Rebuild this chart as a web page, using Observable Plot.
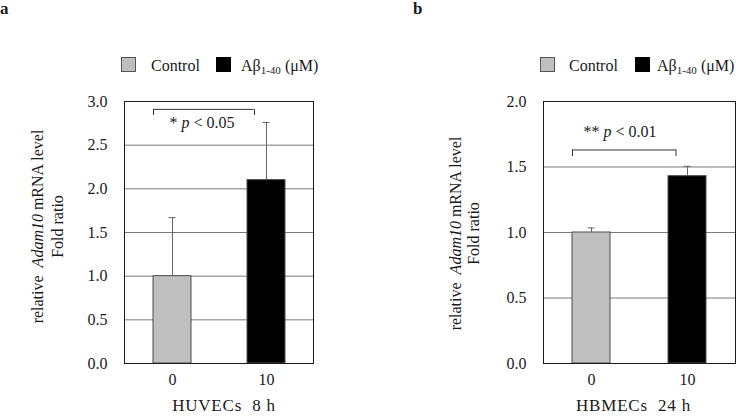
<!DOCTYPE html>
<html>
<head>
<meta charset="utf-8">
<script src="https://cdn.jsdelivr.net/npm/d3@7"></script>
<script src="https://cdn.jsdelivr.net/npm/@observablehq/plot@0.6"></script>
<style>
  html, body { margin: 0; padding: 0; background: #fff; }
  body { font-family: "Liberation Serif", serif; color: #1a1a1a; }
  #wrap { position: relative; width: 736px; height: 417px; overflow: hidden; }
  .panel { position: absolute; top: 0; width: 368px; height: 417px; }
  .panel svg, .panel svg text { font-family: "Liberation Serif", serif !important; white-space: pre; }
  .letter { position: absolute; font-weight: bold; font-size: 17px; line-height: 17px; font-family: "Liberation Serif", serif; }
  .sw { position: absolute; width: 13px; height: 13px; }
  .lt { position: absolute; font-size: 16px; line-height: 16px; white-space: nowrap; font-family: "Liberation Serif", serif; }
  .lt sub { font-size: 11px; vertical-align: baseline; position: relative; top: 3px; }
</style>
</head>
<body>
<div id="wrap"></div>
<script>
// ---- data ----
const groups = ["0", "10"];
const seriesNames = ["Control", "Aβ1-40 (μM)"];
const seriesColors = ["#bfbfbf", "#000000"];
const huvecMean = [1.0, 2.1];
const huvecErr = [0.67, 0.66];
const hbmecMean = [1.0, 1.43];
const hbmecErr = [0.035, 0.075];
const huvecTicks = [0, 0.5, 1.0, 1.5, 2.0, 2.5, 3.0];
const hbmecTicks = [0, 0.5, 1.0, 1.5, 2.0];
const huvecSig = [2.91, 2.84, 2.76];   // bracket top, bracket leg end, label
const hbmecSig = [1.63, 1.58, 1.765];
const sigLabels = ["* p < 0.05", "** p < 0.01"];
const cellLabels = ["HUVECs  8 h", "HBMECs  24 h"];
const yTitle = ["relative  Adam10 mRNA level", "Fold ratio"];
const panelLetters = ["a", "b"];

const fontFamily = "Liberation Serif";

function richify(svg) {
  d3.select(svg).selectAll("text").each(function () {
    const t = this.textContent;
    let parts = null;
    if (cellLabels.includes(t)) {
      this.style.letterSpacing = "0.8px";
      return;
    }
    if (t.includes("Adam10")) {
      const [a, b] = t.split("Adam10");
      parts = [[a, false], ["Adam10", true], [b, false]];
    } else if (t.includes(" p <")) {
      const i = t.indexOf("p <");
      parts = [[t.slice(0, i), false], ["p", true], [t.slice(i + 1), false]];
    }
    if (parts) {
      const s = d3.select(this);
      s.selectAll("*").remove();
      s.text(null);
      for (const [txt, it] of parts) {
        const ts = s.append("tspan").text(txt);
        if (it) ts.attr("font-style", "italic");
      }
    }
  });
}

function panel(o) {
  const rows = groups.map((g, i) => ({group: g, series: seriesNames[i], mean: o.means[i], err: o.errs[i]}));
  const svg = Plot.plot({
    width: 368, height: 417,
    marginLeft: o.ml, marginRight: o.mr, marginTop: 101, marginBottom: 54,
    style: {fontFamily, fontSize: "16px", color: "#1a1a1a", background: "transparent", overflow: "visible"},
    x: {domain: groups, paddingInner: 0.6, paddingOuter: 0.3, axis: null},
    y: {domain: [0, o.yMax], axis: null},
    color: {domain: seriesNames, range: seriesColors},
    marks: [
      Plot.gridY(o.ticks, {stroke: "#7a7a7a", strokeOpacity: 1}),
      Plot.barY(rows, {x: "group", y: "mean", fill: "series", stroke: "#4d4d4d", strokeWidth: 1}),
      Plot.ruleX(rows, {x: "group", y1: "mean", y2: d => d.mean + d.err, stroke: "#666"}),
      Plot.tickY(rows, {x: "group", y: d => d.mean + d.err, stroke: "#666", insetLeft: 15.5, insetRight: 15.5}),
      Plot.frame({stroke: "#1a1a1a"}),
      Plot.axisY(o.ticks, {tickSize: 0, tickPadding: 17, tickFormat: d3.format(".1f"), label: null, fontFamily, fontSize: 16}),
      Plot.axisX({tickSize: 0, tickPadding: 10, label: null, fontFamily, fontSize: 16}),
      Plot.ruleY([{y: o.sig[0], a: groups[0], b: groups[1]}], {y: "y", x1: "a", x2: "b", stroke: "#333", insetRight: o.bracketInsetR}),
      Plot.ruleX([{x: groups[0], y1: o.sig[0], y2: o.sig[1]}], {x: "x", y1: "y1", y2: "y2", stroke: "#333", dx: -19}),
      Plot.ruleX([{x: groups[1], y1: o.sig[0], y2: o.sig[1]}], {x: "x", y1: "y1", y2: "y2", stroke: "#333", dx: o.rightLegDx}),
      Plot.text([{x: groups[0], y: o.sig[2], t: o.sigLabel}], {x: "x", y: "y", text: "t", textAnchor: "start", dx: o.sigDx, fontSize: 16, fontFamily}),
      Plot.text([yTitle[0]], {frameAnchor: "left", textAnchor: "middle", rotate: -90, dx: o.t1dx, dy: o.tdy, fontSize: 16, fontFamily}),
      Plot.text([yTitle[1]], {frameAnchor: "left", textAnchor: "middle", rotate: -90, dx: o.t2dx, dy: o.tdy, fontSize: 16, fontFamily}),
      Plot.text([o.cell], {frameAnchor: "bottom", dy: 47, dx: o.cellDx, fontSize: 17, fontFamily})
    ]
  });
  richify(svg);
  return svg;
}

const wrap = document.getElementById("wrap");

const pA = document.createElement("div");
pA.className = "panel"; pA.style.left = "0px";
pA.appendChild(panel({
  means: huvecMean, errs: huvecErr, ticks: huvecTicks, yMax: 3, sig: huvecSig, sigLabel: sigLabels[0],
  cell: cellLabels[0], ml: 124, mr: 55, bracketInsetR: 31.5, rightLegDx: -12, sigDx: -3,
  t1dx: -87, t2dx: -67, tdy: -6, cellDx: 5
}));
wrap.appendChild(pA);

const pB = document.createElement("div");
pB.className = "panel"; pB.style.left = "368px";
pB.appendChild(panel({
  means: hbmecMean, errs: hbmecErr, ticks: hbmecTicks, yMax: 2, sig: hbmecSig, sigLabel: sigLabels[1],
  cell: cellLabels[1], ml: 175, mr: 1, bracketInsetR: 30, rightLegDx: -11.5, sigDx: -8,
  t1dx: -88, t2dx: -70, tdy: 1, cellDx: -6
}));
wrap.appendChild(pB);

// panel letters
[[panelLetters[0], 0, 0], [panelLetters[1], 413, 0]].forEach(([t, x, y]) => {
  const d = document.createElement("div");
  d.className = "letter"; d.textContent = t;
  d.style.left = x + "px"; d.style.top = y + "px";
  wrap.appendChild(d);
});

// legends
function legend(x0, positions) {
  seriesNames.forEach((name, i) => {
    const [sx, tx] = positions[i];
    const sw = document.createElement("div");
    sw.className = "sw";
    sw.style.left = (x0 + sx) + "px"; sw.style.top = "57px";
    sw.style.background = seriesColors[i];
    sw.style.border = "1px solid " + (i === 0 ? "#555" : "#000");
    wrap.appendChild(sw);
    const lt = document.createElement("div");
    lt.className = "lt";
    lt.style.left = (x0 + tx) + "px"; lt.style.top = "58px";
    if (name.startsWith("Aβ")) {
      const m = name.match(/^(Aβ)(\S+)\s(.*)$/);
      lt.append(m[1]);
      const sub = document.createElement("sub"); sub.textContent = m[2];
      lt.append(sub);
      lt.append(" " + m[3]);
    } else {
      lt.textContent = name;
    }
    wrap.appendChild(lt);
  });
}
legend(0, [[121, 151], [216, 241]]);
legend(0, [[540, 569], [635, 657]]);
</script>
</body>
</html>
